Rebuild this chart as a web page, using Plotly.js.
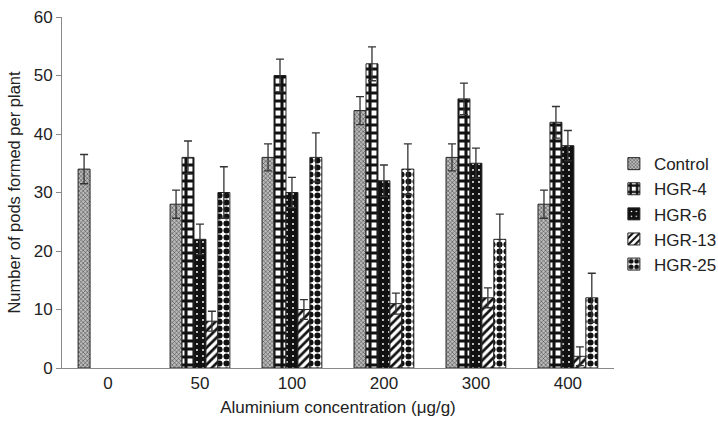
<!DOCTYPE html>
<html><head><meta charset="utf-8">
<script src="https://cdn.plot.ly/plotly-3.0.1.min.js"></script>
<style>html,body{margin:0;padding:0;background:#fff}#c{width:718px;height:424px}</style>
</head><body><div id="c"></div>
<script>
const categories = ["0", "50", "100", "200", "300", "400"];
const seriesNames = ["Control", "HGR-4", "HGR-6", "HGR-13", "HGR-25"];
const control = [34, 28, 36, 44, 36, 28];
const hgr4 = [null, 36, 50, 52, 46, 42];
const hgr6 = [null, 22, 30, 32, 35, 38];
const hgr13 = [null, 8, 10, 11, 12, 2];
const hgr25 = [null, 30, 36, 34, 22, 12];
const controlErr = [2.5, 2.4, 2.3, 2.4, 2.3, 2.4];
const hgr4Err = [0, 2.8, 2.8, 2.9, 2.7, 2.7];
const hgr6Err = [0, 2.6, 2.6, 2.7, 2.6, 2.6];
const hgr13Err = [0, 1.7, 1.7, 1.8, 1.7, 1.6];
const hgr25Err = [0, 4.4, 4.2, 4.3, 4.3, 4.2];

const values = [control, hgr4, hgr6, hgr13, hgr25];
const errs = [controlErr, hgr4Err, hgr6Err, hgr13Err, hgr25Err];
const patterns = [
  {shape: "x", fgcolor: "#333", bgcolor: "#bbb", size: 3, solidity: 0.3},
  {shape: "+", fgcolor: "#111", bgcolor: "#fff", size: 8, solidity: 0.62},
  {shape: ".", fgcolor: "#fff", bgcolor: "#111", size: 6, solidity: 0.08},
  {shape: "/", fgcolor: "#111", bgcolor: "#fff", size: 6, solidity: 0.45},
  {shape: ".", fgcolor: "#111", bgcolor: "#fff", size: 7, solidity: 0.6}
];

const data = seriesNames.map((n, i) => ({
  type: "bar",
  name: n,
  legendgroup: "g" + i,
  x: categories,
  y: values[i],
  error_y: {type: "data", array: errs[i], visible: true, color: "#333", thickness: 1.3, width: 4},
  marker: {color: patterns[i].bgcolor, pattern: patterns[i], line: {color: "#222", width: 1}}
}));

const layout = {
  width: 718, height: 424,
  margin: {l: 62, r: 99, t: 17, b: 56},
  paper_bgcolor: "#fff", plot_bgcolor: "#fff",
  font: {family: "Liberation Sans, Arial, sans-serif", color: "#222", size: 17},
  barmode: "group", bargap: 0.35, bargroupgap: 0,
  showlegend: true,
  legend: {xref: "container", yref: "container", x: 0.855, xanchor: "left", y: 0.495, yanchor: "middle",
           font: {size: 17}, tracegroupgap: 0, itemwidth: 30},
  xaxis: {
    type: "category", showline: true, linecolor: "#888", linewidth: 1,
    ticks: "", showgrid: false, zeroline: false,
    tickfont: {size: 17},
    title: {text: "Aluminium concentration (μg/g)", font: {size: 17}, standoff: 8}
  },
  yaxis: {
    range: [0, 60], dtick: 10, showline: true, linecolor: "#888", linewidth: 1,
    ticks: "outside", ticklen: 5, tickcolor: "#888", showgrid: false, zeroline: false,
    tickfont: {size: 17},
    title: {text: "Number of pods formed per plant", font: {size: 16.5}, standoff: 8}
  }
};
Plotly.newPlot("c", data, layout, {displayModeBar: false, staticPlot: true});
</script></body></html>
